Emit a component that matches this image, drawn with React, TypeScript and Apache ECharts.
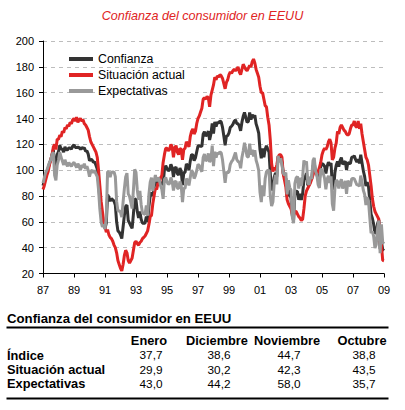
import { useEffect, useRef } from "react";
import * as echarts from "echarts";

// Monthly series, January 1987 – January 2009 (12 values per line, one line per year)
const startYear = 1987;

const confianza = [
  88, 91.6, 95.6, 98.4, 101.4, 105.2, 108, 112, 115.6, 105.6, 101.6, 112,
  114.4, 119.2, 116.4, 116.2, 114, 118, 115.8, 115.8, 117.2, 117.2, 116.2, 118.6,
  119.6, 117.6, 117.6, 117.8, 117.4, 116, 117.6, 116.8, 117.4, 114.6, 115, 112.4,
  107.4, 108.2, 108, 106, 106.4, 103.8, 101, 91, 77.2, 66.4, 60.8, 58.8,
  55, 59, 81, 79, 76, 78, 77, 76, 73, 60, 53, 52,
  50, 47, 56, 65, 72, 73, 61, 59, 57, 55, 66, 78,
  77, 68, 63, 68, 62, 59, 59, 59, 64, 60, 72, 80,
  82.6, 79.9, 86.7, 92.1, 88.9, 92.5, 91.3, 90.4, 89.5, 89.1, 100.4, 103.4,
  101.4, 99.4, 100.2, 104.6, 102.0, 94.6, 101.4, 102.4, 97.3, 96.3, 101.6, 99.2,
  88.4, 98.0, 98.4, 104.8, 103.5, 100.1, 107.0, 112.0, 111.8, 107.3, 109.5, 114.2,
  118.7, 118.9, 118.5, 118.5, 127.9, 129.9, 126.3, 127.6, 130.2, 123.4, 128.1, 136.2,
  128.3, 137.4, 133.8, 137.2, 136.3, 138.2, 137.2, 133.1, 126.4, 119.3, 126.4, 126.7,
  128.9, 133.1, 134.0, 135.5, 137.7, 139.0, 136.2, 136.0, 134.2, 130.5, 137.0, 141.7,
  144.7, 140.8, 137.1, 137.7, 144.7, 139.2, 143.0, 140.8, 142.5, 135.8, 132.6, 128.6,
  115.7, 109.2, 116.9, 109.9, 116.1, 118.9, 116.3, 114.0, 97.0, 85.3, 84.9, 94.6,
  97.8, 95.0, 110.7, 108.5, 110.3, 106.3, 97.4, 94.5, 93.7, 79.6, 84.9, 80.7,
  78.8, 64.8, 61.4, 81.0, 83.6, 83.5, 77.0, 81.7, 77.0, 81.7, 92.5, 94.8,
  97.7, 88.5, 88.5, 93.0, 93.1, 102.8, 105.7, 98.7, 96.7, 92.9, 92.6, 102.7,
  105.1, 104.4, 103.0, 97.5, 103.1, 106.2, 103.6, 105.5, 87.5, 85.2, 98.3, 103.8,
  106.8, 102.7, 107.5, 109.8, 104.7, 105.4, 107.0, 100.2, 105.9, 105.1, 105.3, 110.0,
  110.2, 111.2, 108.2, 106.3, 108.5, 105.3, 111.9, 105.6, 99.5, 95.2, 87.8, 90.6,
  87.3, 76.4, 65.9, 62.8, 58.1, 51.0, 51.9, 58.5, 61.4, 38.8, 44.7, 38.6,
  37.7,
];

const situacionActual = [
  85, 88, 92, 96, 99, 104, 108, 112, 118, 120, 116, 124,
  124, 127, 126, 130, 129, 133, 132, 135, 134, 137, 136, 139,
  140, 138, 141, 137, 139, 140, 138, 139, 136, 135, 133, 131,
  126, 122, 120, 118, 116, 114, 110, 100, 88, 76, 68, 60,
  56, 52, 54, 50, 48, 47, 45, 42, 40, 36, 30, 27,
  24, 22, 27, 34, 38, 36, 30, 28, 30, 32, 38, 44,
  45, 43, 42, 44, 45, 47, 48, 49, 51, 53, 58, 64,
  65, 74, 80, 86, 85, 90, 89, 94, 96, 106, 112, 117,
  117, 115, 116, 120, 118, 110, 117, 119, 114, 112, 117, 116,
  108, 116, 117, 122, 120, 118, 126, 130, 132, 128, 130, 136,
  140, 142, 145, 148, 155, 156, 155, 157, 156, 149, 158, 162,
  166, 172, 170, 173, 172, 174, 173, 171, 167, 163, 168, 170,
  174, 176, 175, 177, 178, 177, 178, 180, 176, 174, 178, 182,
  180, 178, 177, 179, 181, 180, 184, 186, 183, 178, 175, 172,
  165, 160, 160, 155, 150, 149, 141, 135, 123, 105, 99, 102,
  100, 104, 110, 112, 112, 110, 97, 92, 87, 77, 74, 72,
  70, 66, 65, 68, 68, 66, 64, 63, 61, 62, 70, 80,
  84, 86, 88, 90, 93, 96, 100, 98, 97, 99, 102, 106,
  112, 115, 117, 116, 118, 122, 124, 121, 108, 110, 117, 121,
  130, 128, 133, 135, 133, 131, 130, 128, 127, 128, 132, 135,
  135, 138, 134, 133, 138, 132, 136, 128, 122, 116, 110, 108,
  104, 96, 88, 78, 72, 68, 66, 64, 62, 43.5, 42.3, 30.2,
  29.9,
];

const expectativas = [
  90, 94, 98, 100, 103, 106, 108, 112, 114, 96, 92, 104,
  108, 114, 110, 107, 104, 108, 105, 103, 106, 104, 103, 105,
  106, 104, 102, 105, 103, 100, 104, 102, 105, 101, 103, 100,
  95, 99, 100, 98, 100, 97, 95, 85, 70, 60, 56, 58,
  54.3, 63.7, 99, 98.3, 94.7, 98.7, 98.3, 98.7, 95, 76, 68.3, 68.7,
  67.3, 63.7, 75.3, 85.7, 94.7, 97.7, 81.7, 79.7, 75, 70.3, 84.7, 100.7,
  98.3, 84.7, 77, 84, 73.3, 67, 66.3, 65.7, 72.7, 64.7, 81.3, 90.7,
  94.3, 83.8, 91.2, 96.2, 91.5, 94.2, 92.8, 88, 85.2, 77.8, 92.7, 94.3,
  91, 89, 89.7, 94.3, 91.3, 84.3, 91, 91.3, 86.2, 85.8, 91.3, 88,
  75.3, 86, 86, 93.3, 92.5, 88.2, 94.3, 100, 98.3, 93.5, 95.8, 99.7,
  104.5, 103.5, 100.8, 98.8, 109.8, 112.5, 107.2, 108, 113, 106.3, 108.2, 119,
  103.2, 114.3, 109.7, 113.3, 112.5, 114.3, 113.3, 107.8, 99.3, 90.2, 98.7, 97.8,
  98.8, 104.5, 106.7, 107.8, 110.8, 113.7, 108.3, 106.7, 106.3, 101.5, 109.7, 114.8,
  121.2, 116, 110.5, 110.2, 120.5, 112, 115.7, 110.7, 115.5, 107.7, 104.3, 99.7,
  82.8, 75.3, 88.2, 79.8, 93.5, 98.8, 99.8, 100, 79.7, 72.2, 75.5, 89.7,
  96.3, 89, 111.2, 106.2, 109.2, 103.8, 97.7, 96.2, 98.2, 81.3, 92.2, 86.5,
  84.7, 64, 59, 89.7, 94, 95.2, 85.7, 94.2, 87.7, 94.8, 107.5, 104.7,
  106.8, 90.2, 88.8, 95, 93.2, 107.3, 109.5, 99.2, 96.5, 88.8, 86.3, 100.5,
  100.5, 97.3, 93.7, 85.2, 93.2, 95.7, 90, 95.2, 73.8, 68.7, 85.8, 92.3,
  91.3, 85.8, 90.5, 93, 85.8, 88.3, 91.7, 81.7, 91.8, 89.8, 87.5, 93.3,
  93.7, 93.3, 91, 88.5, 88.8, 87.5, 95.8, 90.7, 84.5, 81.3, 73, 79,
  76.2, 63.3, 51.2, 52.7, 48.8, 39.7, 42.5, 54.8, 61, 35.7, 58.0, 44.2,
  43.0,
];

const seriesNames = ["Confianza", "Situación actual", "Expectativas"];
const seriesColors = ["#333333", "#e02424", "#999999"];

// Summary table: latest four months, newest first
const tableTitle = "Confianza del consumidor en EEUU";
const tableColumns = ["Enero", "Diciembre", "Noviembre", "Octubre"];
const tableRows = ["Índice", "Situación actual", "Expectativas"];

const FONT = "'Liberation Sans', Arial, sans-serif";

const categories = confianza.map((_, i) => {
  const y = startYear + Math.floor(i / 12);
  const m = (i % 12) + 1;
  return `${y}-${m < 10 ? "0" + m : m}`;
});

const fmt = (v: number) => v.toFixed(1).replace(".", ",");
const lastFour = (arr: number[]) => arr.slice(-4).reverse();
const tableValues = [lastFour(confianza), lastFour(situacionActual), lastFour(expectativas)];

export default function App() {
  const ref = useRef<HTMLDivElement>(null);

  useEffect(() => {
    if (!ref.current) return;
    const chart = echarts.init(ref.current, undefined, { renderer: "svg" });

    const colX = [149, 217, 287, 362];
    const rowY = [355, 369.5, 383.5];
    const graphics: any[] = [
      {
        type: "text",
        left: "center",
        top: 9,
        style: {
          text: "Confianza del consumidor en EEUU",
          fill: "#e02424",
          font: `italic 12.6px ${FONT}`,
        },
      },
      {
        type: "text",
        x: 7,
        y: 318,
        style: {
          text: tableTitle,
          fill: "#000",
          font: `bold 13.2px ${FONT}`,
          verticalAlign: "middle",
        },
      },
      {
        type: "line",
        shape: { x1: 6.5, y1: 327.5, x2: 388.5, y2: 327.5 },
        style: { stroke: "#000", lineWidth: 2 },
      },
      {
        type: "line",
        shape: { x1: 6.5, y1: 398.5, x2: 388.5, y2: 398.5 },
        style: { stroke: "#000", lineWidth: 2 },
      },
    ];
    tableColumns.forEach((c, j) => {
      graphics.push({
        type: "text",
        x: colX[j],
        y: 340,
        style: {
          text: c,
          fill: "#000",
          font: `bold 12.8px ${FONT}`,
          align: "center",
          verticalAlign: "middle",
        },
      });
    });
    tableRows.forEach((r, i) => {
      graphics.push({
        type: "text",
        x: 7,
        y: rowY[i],
        style: {
          text: r,
          fill: "#000",
          font: `bold 12.8px ${FONT}`,
          verticalAlign: "middle",
        },
      });
      tableValues[i].forEach((v, j) => {
        graphics.push({
          type: "text",
          x: colX[j] + 2,
          y: rowY[i],
          style: {
            text: fmt(v),
            fill: "#000",
            font: `11.8px ${FONT}`,
            align: "center",
            verticalAlign: "middle",
          },
        });
      });
    });

    const seriesData = [confianza, situacionActual, expectativas];

    chart.setOption({
      animation: false,
      backgroundColor: "#ffffff",
      textStyle: { fontFamily: FONT },
      grid: { left: 43, right: 21, top: 41, bottom: 136.5, containLabel: false },
      legend: {
        data: seriesNames,
        orient: "vertical",
        left: 64,
        top: 47,
        itemWidth: 24,
        itemHeight: 4,
        itemGap: 2,
        icon: "rect",
        textStyle: { fontSize: 12.3, color: "#000", fontFamily: FONT, lineHeight: 14 },
      },
      xAxis: {
        type: "category",
        data: categories,
        boundaryGap: false,
        axisLine: { lineStyle: { color: "#000", width: 1 } },
        axisTick: { show: true, interval: 23, length: 4, lineStyle: { color: "#000" } },
        axisLabel: {
          interval: 23,
          margin: 11,
          color: "#000",
          fontSize: 11,
          fontFamily: FONT,
          formatter: (v: string) => v.slice(2, 4),
        },
        splitLine: { show: false },
      },
      yAxis: {
        type: "value",
        min: 20,
        max: 200,
        interval: 20,
        axisLine: { show: true, lineStyle: { color: "#000", width: 1 } },
        axisTick: { show: true, length: 4, lineStyle: { color: "#000" } },
        axisLabel: { margin: 9, color: "#000", fontSize: 11, fontFamily: FONT },
        splitLine: { show: true, lineStyle: { color: "#bdbdbd", type: [4, 4], width: 1 } },
      },
      series: seriesNames.map((name, k) => ({
        name,
        type: "line",
        data: seriesData[k],
        showSymbol: false,
        symbol: "none",
        color: seriesColors[k],
        lineStyle: { color: seriesColors[k], width: 3 },
        z: 2 + k,
      })),
      graphic: graphics,
    });

    return () => chart.dispose();
  }, []);

  return (
    <div
      ref={ref}
      style={{ position: "fixed", left: 0, top: 0, width: 405, height: 410, background: "#fff" }}
    />
  );
}
